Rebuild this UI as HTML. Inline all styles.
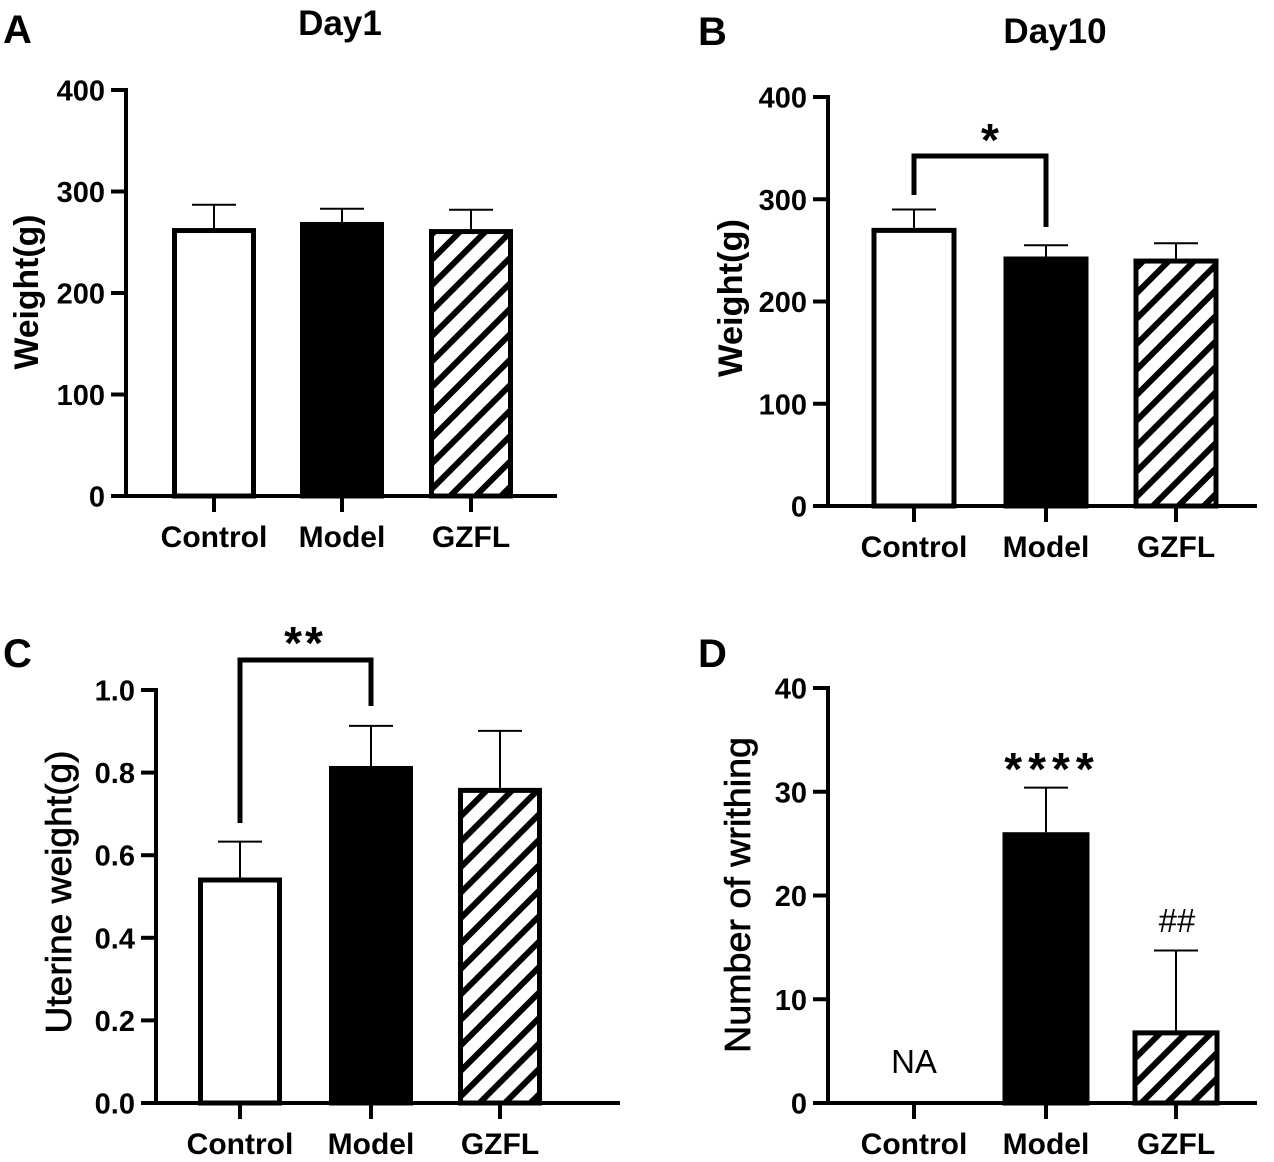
<!DOCTYPE html>
<html><head><meta charset="utf-8">
<style>
html,body{margin:0;padding:0;background:#fff;}
svg{display:block;font-family:"Liberation Sans",Arial,sans-serif;}
</style></head>
<body>
<svg id="fig" width="1274" height="1162" viewBox="0 0 1274 1162" xmlns="http://www.w3.org/2000/svg">
<defs>
<pattern id="hatch" patternUnits="userSpaceOnUse" width="18" height="18" patternTransform="rotate(45)">
<rect width="18" height="18" fill="#fff"/>
<rect x="0" y="0" width="6" height="18" fill="#000"/>
</pattern>
</defs>
</svg>
<script>
const categories = ["Control","Model","GZFL"];
const aValues = [264, 270, 263];
const aErrors = [23, 13, 19];
const aTicks = [0,100,200,300,400];
const bValues = [272, 244, 242];
const bErrors = [18, 11, 15];
const bTicks = [0,100,200,300,400];
const cValues = [0.546, 0.816, 0.763];
const cErrors = [0.087, 0.097, 0.138];
const cTicks = ["0.0","0.2","0.4","0.6","0.8","1.0"];
const dValues = [0, 26.1, 7.0];
const dErrors = [0, 4.3, 7.7];
const dTicks = [0,10,20,30,40];

const NS = "http://www.w3.org/2000/svg";
const svg = document.getElementById('fig');
function mk(tag, attrs, parent, text){
  const e = document.createElementNS(NS, tag);
  for (const k in attrs) e.setAttribute(k, attrs[k]);
  if (text !== undefined) e.textContent = text;
  (parent || svg).appendChild(e);
  return e;
}

function panel(opt){
  const g = mk('g', {});
  
  
  const tickVals = opt.ticks.map(Number);
  const ymax = tickVals[tickVals.length-1];
  const y = v => opt.y0 - (v / ymax) * (opt.y0 - opt.yTop);
  const x = i => opt.centers[i];
  const L = mk('text', {x: opt.letterX, y: opt.letterY, 'font-size': 40, 'font-weight': 'bold'}, g, opt.id.toUpperCase());
  
  
  if (opt.title) {
    const t = mk('text', {x: opt.titleX, y: opt.titleY, 'font-size': 35, 'font-weight': 'bold', 'text-anchor': 'middle'}, g, opt.title);
    
    
  }
  opt.values.forEach((v, i) => {
    if (opt.na && opt.na[i]) {
      const na = mk('text', {x: x(i), y: opt.y0 - 30, 'font-size': 33, 'text-anchor': 'middle'}, g, 'NA');
      
      
      return;
    }
    const fill = i === 0 ? '#fff' : (i === 1 ? '#000' : 'url(#hatch)');
    const top = y(v);
    const et = y(v + opt.errors[i]);
    const eg = mk('g', {}, g);
    
    
    mk('line', {x1: x(i), x2: x(i), y1: top, y2: et, stroke: '#000', 'stroke-width': 2}, eg);
    mk('line', {x1: x(i)-22, x2: x(i)+22, y1: et, y2: et, stroke: '#000', 'stroke-width': 2}, eg);
    const r = mk('rect', {x: x(i) - opt.bw/2 + 2.5, y: top + 2.5, width: opt.bw - 5, height: Math.max(0, opt.y0 - top - 2.5), fill: fill, stroke: '#000', 'stroke-width': 5}, g);
    
    
  });
  const ax = mk('g', {}, g);
  
  
  mk('line', {x1: opt.ax, x2: opt.ax, y1: opt.yTop - 2, y2: opt.y0 + 2, stroke: '#000', 'stroke-width': 4}, ax);
  opt.ticks.forEach(tv => {
    const yy = y(Number(tv));
    mk('line', {x1: opt.ax - 15, x2: opt.ax, y1: yy, y2: yy, stroke: '#000', 'stroke-width': 4}, ax);
    const tl = mk('text', {x: opt.ax - 21, y: yy + 10.5, 'font-size': 29, 'font-weight': 'bold', 'text-anchor': 'end'}, ax, String(tv));
    
    
  });
  const xa = mk('g', {}, g);
  
  
  mk('line', {x1: opt.ax - 15, x2: opt.xEnd, y1: opt.y0, y2: opt.y0, stroke: '#000', 'stroke-width': 4}, xa);
  categories.forEach((c, i) => {
    mk('line', {x1: x(i), x2: x(i), y1: opt.y0, y2: opt.y0 + 16, stroke: '#000', 'stroke-width': 4}, xa);
    const cl = mk('text', {x: x(i), y: opt.y0 + 51, 'font-size': 30, 'font-weight': 'bold', 'text-anchor': 'middle'}, xa, c);
    
    
  });
  const yt = mk('text', {x: 0, y: 0, 'font-size': opt.ytSize, 'font-weight': opt.ytBold ? 'bold' : 'normal',
    'text-anchor': 'middle', textLength: opt.ytLen, lengthAdjust: 'spacingAndGlyphs',
    stroke: opt.ytBold ? 'none' : '#000', 'stroke-width': opt.ytBold ? 0 : 0.7,
    transform: `translate(${opt.ytX},${opt.ytY}) rotate(-90)`}, g, opt.yTitle);
  
  
  if (opt.bracket) {
    const b = opt.bracket;
    const p = mk('path', {d: `M${x(b.i)},${b.yl} V${b.top} H${x(b.j)} V${b.yr}`, fill: 'none', stroke: '#000', 'stroke-width': 5}, g);
    
    
  }
  (opt.marks || []).forEach(m => {
    const s = mk('text', {x: m.x, y: m.y, 'font-size': m.size, 'font-weight': m.bold ? 'bold' : 'normal', 'text-anchor': 'middle', 'letter-spacing': m.ls || 0}, g, m.t);
    
    
  });
}

panel({id:'a', values:aValues, errors:aErrors, ticks:aTicks, y0:496, yTop:90, ax:126, xEnd:557,
  centers:[214,342,471], bw:84, letterX:3, letterY:43, title:'Day1', titleX:340, titleY:35,
  yTitle:'Weight(g)', ytX:38, ytY:292, ytBold:true, ytSize:34, ytLen:155});
panel({id:'b', values:bValues, errors:bErrors, ticks:bTicks, y0:506, yTop:97, ax:828, xEnd:1257,
  centers:[914,1046,1176], bw:85, letterX:698, letterY:45, title:'Day10', titleX:1055, titleY:43,
  yTitle:'Weight(g)', ytX:742, ytY:298, ytBold:true, ytSize:34, ytLen:158,
  bracket:{i:0, j:1, top:156, yl:195, yr:227},
  marks:[{t:'*', x:990, y:156, size:46, bold:true}]});
panel({id:'c', values:cValues, errors:cErrors, ticks:cTicks, y0:1103, yTop:690, ax:156, xEnd:620,
  centers:[240,371,500], bw:84, letterX:3, letterY:667,
  yTitle:'Uterine weight(g)', ytX:71, ytY:892, ytBold:false, ytSize:36, ytLen:283,
  bracket:{i:0, j:1, top:660, yl:823, yr:706},
  marks:[{t:'**', x:305, y:659, size:46, bold:true, ls:3}]});
panel({id:'d', values:dValues, errors:dErrors, ticks:dTicks, y0:1103, yTop:688, ax:828, xEnd:1257,
  centers:[914,1046,1176], bw:87, letterX:698, letterY:667, na:[true,false,false],
  yTitle:'Number of writhing', ytX:750, ytY:895, ytBold:false, ytSize:36, ytLen:316,
  marks:[{t:'****', x:1052, y:785, size:46, bold:true, ls:6},{t:'##', x:1177, y:932, size:33, bold:false}]});
</script>
</body></html>
